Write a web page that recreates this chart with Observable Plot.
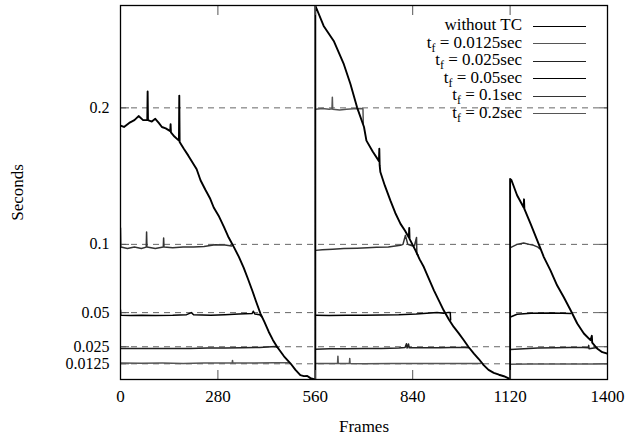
<!DOCTYPE html>
<html>
<head>
<meta charset="utf-8">
<script src="https://cdn.jsdelivr.net/npm/d3@7"></script>
<script src="https://cdn.jsdelivr.net/npm/@observablehq/plot@0.6"></script>
<style>
  html, body { margin: 0; padding: 0; background: #fff; }
  #wrap { position: relative; width: 626px; height: 436px; font-family: "Liberation Serif", "Times New Roman", serif; }
  #legend { position: absolute; left: 0; top: 17px; width: 626px; font-size: 17px; color: #000; }
  .row { position: relative; height: 17.5px; }
  .lab { position: absolute; right: 104px; top: -1px; white-space: nowrap; line-height: 17.5px; }
  .lab sub { font-size: 12px; vertical-align: -4px; line-height: 0; }
  .sw { position: absolute; left: 533px; width: 53px; top: 8.5px; height: 0; }
</style>
</head>
<body>
<div id="wrap"><div id="legend"></div></div>
<script>
// ---- data (frame, seconds) ----
const xTicks = [0, 280, 560, 840, 1120, 1400];
const yTicks = [0.0125, 0.025, 0.05, 0.1, 0.2];
const yTickLabels = ["0.0125", "0.025", "0.05", "0.1", "0.2"];

const seriesNames = ["without TC", "0.0125", "0.025", "0.05", "0.1", "0.2"];
const seriesColors = ["#000", "#555", "#222", "#000", "#333", "#555"];

const withoutTC = [
  [[0,0.187],[10,0.186],[25,0.189],[40,0.191],[52,0.194],[65,0.191],[77,0.191],[78,0.212],[79,0.191],[90,0.190],[100,0.192],[110,0.189],[119,0.186],[130,0.185],[143,0.183],[144,0.188],[145,0.182],[155,0.179],[168,0.176],[169,0.209],[170,0.175],[182,0.170],[195,0.165],[207,0.160],[219,0.155],[230,0.147],[244,0.140],[258,0.1334],[268,0.127],[282,0.121],[297,0.113],[311,0.105],[326,0.098],[340,0.091],[354,0.083],[366,0.075],[379,0.066],[390,0.058],[402,0.0495],[414,0.043],[426,0.036],[438,0.030],[450,0.025],[470,0.018],[489,0.0127],[503,0.008],[517,0.0042],[527,0.0035],[537,0.0036],[546,0.002],[556,0.0012],[560,0.001],
   [560,0.275],[584,0.260],[613,0.249],[642,0.232],[661,0.2175],[680,0.2004],[700,0.186],[707,0.176],[725,0.168],[743,0.161],[744,0.170],[745,0.158],[747,0.153],[760,0.143],[776,0.132],[790,0.123],[805,0.115],[818,0.110],[829,0.105],[830,0.112],[831,0.104],[848,0.0956],[860,0.089],[872,0.0834],[886,0.075],[901,0.0663],[915,0.059],[929,0.0517],[944,0.045],[958,0.0395],[972,0.035],[987,0.0298],[1000,0.025],[1016,0.020],[1030,0.016],[1044,0.0115],[1058,0.008],[1073,0.0059],[1088,0.0045],[1102,0.0034],[1116,0.0018],[1120,0.0015],
   [1120,0.148],[1124,0.147],[1140,0.136],[1159,0.127],[1160,0.133],[1161,0.126],[1179,0.115],[1198,0.103],[1217,0.0907],[1236,0.081],[1255,0.070],[1274,0.0614],[1294,0.0517],[1313,0.042],[1332,0.0347],[1351,0.0298],[1355,0.033],[1356,0.028],[1370,0.0237],[1385,0.021],[1400,0.020]]
];

const tf0125 = [
  [[0,0.013],[60,0.0129],[120,0.013],[180,0.0128],[240,0.013],[300,0.013],[321,0.013],[322,0.015],[323,0.013],[380,0.0131],[440,0.0132],[483,0.0132]],
  [[561,0.0127],[600,0.0127],[624,0.0127],[625,0.0181],[626,0.0127],[658,0.0127],[659,0.0164],[660,0.0127],[700,0.0126],[780,0.0127],[860,0.0127],[940,0.0128],[1000,0.0127],[1035,0.0127]],
  [[1121,0.0122],[1180,0.0123],[1240,0.0123],[1300,0.0124],[1360,0.0124],[1400,0.0125]]
];
const tf025 = [
  [[0,0.0237],[50,0.0237],[100,0.0238],[150,0.0237],[200,0.0238],[250,0.024],[300,0.024],[350,0.0242],[400,0.0245],[445,0.0251],[452,0.0245]],
  [[561,0.0232],[600,0.0235],[650,0.0236],[700,0.0237],[750,0.0238],[800,0.024],[818,0.0245],[822,0.0272],[824,0.024],[828,0.027],[830,0.0242],[870,0.0242],[920,0.0243],[950,0.0244],[990,0.0244],[1002,0.0242]],
  [[1121,0.023],[1160,0.0235],[1200,0.024],[1250,0.0242],[1290,0.0244],[1330,0.0245],[1345,0.0242],[1346,0.026],[1347,0.0235],[1370,0.0244]]
];
const tf05 = [
  [[0,0.052],[1,0.048],[30,0.0478],[60,0.048],[100,0.0478],[150,0.048],[190,0.0485],[204,0.050],[210,0.0485],[260,0.048],[300,0.0485],[340,0.049],[378,0.0493],[382,0.051],[386,0.049],[400,0.0485],[406,0.047]],
  [[561,0.048],[600,0.0478],[650,0.048],[700,0.048],[750,0.0483],[800,0.0485],[850,0.049],[880,0.0495],[910,0.050],[929,0.0495],[940,0.050],[948,0.050],[949,0.0445]],
  [[1121,0.0468],[1140,0.0488],[1180,0.0495],[1236,0.0498],[1270,0.0495],[1294,0.0493]]
];
const tf1 = [
  [[0,0.112],[1,0.098],[20,0.097],[40,0.098],[60,0.097],[74,0.098],[75,0.109],[76,0.098],[100,0.097],[123,0.098],[124,0.1046],[125,0.098],[150,0.0975],[180,0.098],[210,0.098],[240,0.0985],[272,0.0998],[300,0.0995],[320,0.0988]],
  [[561,0.0956],[580,0.096],[610,0.0965],[642,0.097],[680,0.0972],[710,0.0975],[736,0.0978],[770,0.098],[805,0.0993],[812,0.100],[819,0.1066],[826,0.100],[838,0.099],[845,0.099],[851,0.105],[852,0.093],[856,0.092]],
  [[1121,0.0976],[1140,0.100],[1159,0.101],[1175,0.100],[1188,0.0993],[1200,0.098],[1205,0.0968]]
];
const tf2 = [
  [[561,0.199],[580,0.1995],[600,0.199],[608,0.1993],[609,0.2078],[610,0.199],[630,0.1985],[650,0.199],[670,0.1993],[690,0.1995],[697,0.1993],[698,0.1885]]
];

// ---- build table ----
const allSeries = [withoutTC, tf0125, tf025, tf05, tf1, tf2];
const rows = [];
allSeries.forEach((segs, si) => {
  segs.forEach((seg, gi) => {
    seg.forEach(([f, v]) => rows.push({frame: f, sec: v, series: seriesNames[si], key: si + "-" + gi}));
  });
});

const lineMarks = allSeries.map((segs, si) =>
  Plot.line(rows.filter(d => d.series === seriesNames[si]), {
    x: "frame", y: "sec", z: "key",
    stroke: seriesColors[si],
    strokeWidth: si === 0 ? 1.9 : 1.5,
    clip: true
  })
).reverse();

const chart = Plot.plot({
  width: 626,
  height: 436,
  marginLeft: 120,
  marginRight: 19,
  marginTop: 5,
  marginBottom: 57,
  x: {domain: [0, 1400]},
  y: {domain: [0.001, 0.275]},
  style: {fontFamily: "Liberation Serif, Times New Roman, serif", fontSize: "17px", color: "#000", background: "#fff", overflow: "visible"},
  marks: [
    Plot.ruleY(yTicks, {stroke: "#666", strokeWidth: 1, strokeDasharray: "6,5"}),
    ...lineMarks,
    Plot.axisX(xTicks, {anchor: "bottom", tickSize: -9, text: null, label: null, stroke: "#555"}),
    Plot.axisX(xTicks, {anchor: "top", tickSize: -9, text: null, label: null, stroke: "#555"}),
    Plot.axisY(yTicks, {anchor: "left", tickSize: -9, text: null, label: null, stroke: "#555"}),
    Plot.axisY(yTicks, {anchor: "right", tickSize: -9, text: null, label: null, stroke: "#555"}),
    Plot.axisX(xTicks, {anchor: "bottom", tickSize: 0, tickPadding: 10, tickFormat: d => String(d),
      label: "Frames", labelAnchor: "center", labelArrow: "none", labelOffset: 52}),
    Plot.axisY(yTicks, {anchor: "left", tickSize: 0, tickPadding: 11, fontSize: 16, tickFormat: (d, i) => yTickLabels[i],
      label: null}),
    Plot.axisY(yTicks, {anchor: "left", tickSize: 0, text: null,
      label: "Seconds", labelAnchor: "center", labelArrow: "none", labelOffset: 110}),
    Plot.frame({stroke: "#000", strokeWidth: 1.3})
  ]
});
document.getElementById("wrap").prepend(chart);

// ---- legend ----
const legend = document.getElementById("legend");
seriesNames.forEach((name, i) => {
  const row = document.createElement("div");
  row.className = "row";
  const lab = document.createElement("span");
  lab.className = "lab";
  if (i === 0) lab.textContent = name;
  else lab.innerHTML = "t<sub>f</sub> = " + name + "sec";
  const sw = document.createElement("div");
  sw.className = "sw";
  sw.style.borderTop = "1.3px solid " + seriesColors[i];
  row.appendChild(lab);
  row.appendChild(sw);
  legend.appendChild(row);
});
</script>
</body>
</html>
